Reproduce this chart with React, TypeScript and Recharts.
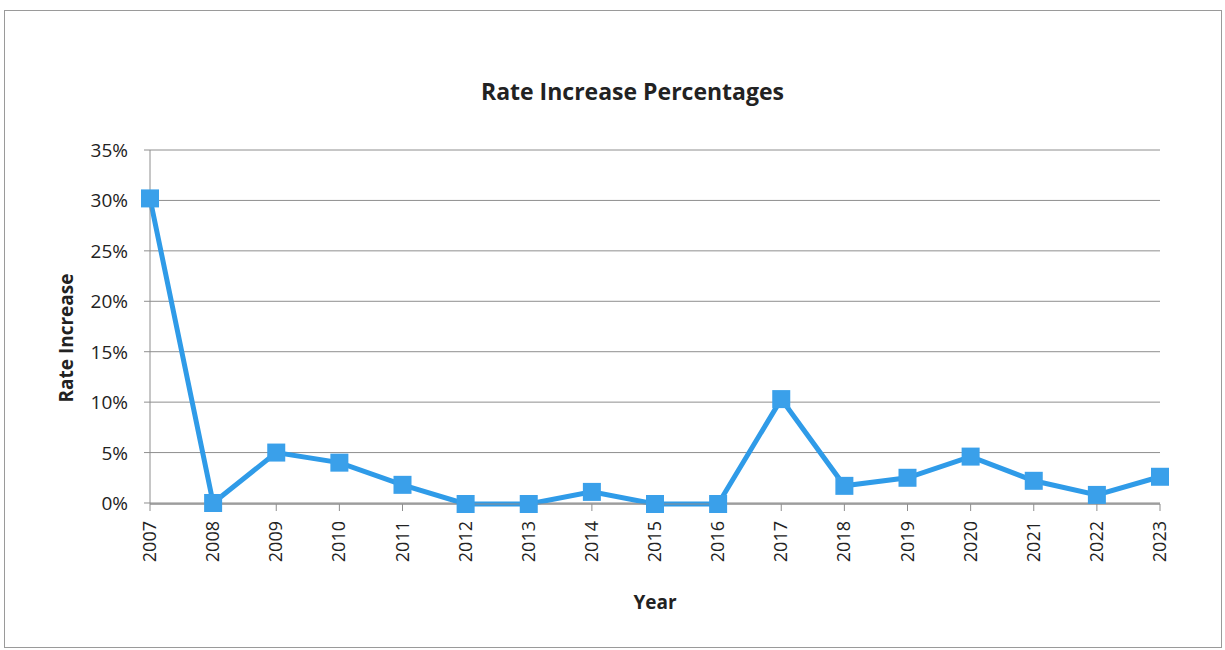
import { LineChart, Line, XAxis, YAxis, CartesianGrid, Label } from "recharts";

// Yearly rate increases, in percent.
const YEARS = [
  "2007", "2008", "2009", "2010", "2011", "2012", "2013", "2014", "2015",
  "2016", "2017", "2018", "2019", "2020", "2021", "2022", "2023",
];
const RATE_INCREASE = [
  30.2, 0, 5, 4, 1.8, -0.1, -0.1, 1.1, -0.1, -0.1, 10.3, 1.7, 2.5, 4.6, 2.2, 0.8, 2.6,
];
const Y_TICKS = [0, 5, 10, 15, 20, 25, 30, 35];

const data = YEARS.map((year, i) => ({ year, rate: RATE_INCREASE[i] }));

const FONT = "'Open Sans', sans-serif";
const LINE_COLOR = "#2f9be8";
const GRID_COLOR = "#8e8e8e";

// Excel style square marker
function SquareDot(props: any) {
  const { cx, cy, index } = props;
  if (cx == null || cy == null) return null;
  const s = 18;
  return (
    <rect
      key={`dot-${index}`}
      x={cx - s / 2}
      y={cy - s / 2}
      width={s}
      height={s}
      fill="#3aa0ea"
    />
  );
}

function YearTick(props: any) {
  const { x, y, payload } = props;
  return (
    <text
      x={0}
      y={0}
      transform={`translate(${x + 6},${y + 8}) rotate(-90)`}
      textAnchor="end"
      fill="#222"
      fontSize={18}
      fontFamily={FONT}
    >
      {payload.value}
    </text>
  );
}

function PercentTick(props: any) {
  const { x, y, payload } = props;
  return (
    <text
      x={x - 14}
      y={y + 7}
      textAnchor="end"
      fill="#222"
      fontSize={19}
      fontFamily={FONT}
    >
      {`${payload.value}%`}
    </text>
  );
}

// axis title sits a bit below the plot's middle in the original
function YTitle({ viewBox }: any) {
  const cy = viewBox.y + viewBox.height / 2 + 11;
  return (
    <text
      transform={`translate(73,${cy}) rotate(-90)`}
      textAnchor="middle"
      fill="#222"
      fontSize={19}
      fontWeight={700}
      fontFamily={FONT}
    >
      Rate Increase
    </text>
  );
}

export default function App() {
  return (
    <div style={{ position: "absolute", left: 0, top: 0, width: 1225, height: 650, background: "#fff" }}>
      <div
        style={{
          position: "absolute",
          left: 4,
          top: 10,
          width: 1216,
          height: 636,
          border: "1px solid #9a9a9a",
        }}
      />
      <div
        style={{
          position: "absolute",
          left: 0,
          width: 1265,
          top: 75,
          textAlign: "center",
          fontFamily: FONT,
          fontWeight: 700,
          fontSize: 23,
          color: "#222",
        }}
      >
        Rate Increase Percentages
      </div>
      <div style={{ position: "absolute", left: 0, top: 0 }}>
        <LineChart
          width={1225}
          height={650}
          data={data}
          margin={{ top: 150, right: 65, bottom: 36, left: 90 }}
        >
          <CartesianGrid vertical={false} stroke={GRID_COLOR} />
          <XAxis
            dataKey="year"
            height={110}
            stroke={GRID_COLOR}
            tickSize={7}
            interval={0}
            tick={<YearTick />}
          >
            <Label
              value="Year"
              position="insideBottom"
              offset={5}
              fill="#222"
              fontSize={19}
              fontWeight={700}
              fontFamily={FONT}
            />
          </XAxis>
          <YAxis
            width={60}
            domain={[-0.1, 35]}
            ticks={Y_TICKS}
            stroke={GRID_COLOR}
            tickSize={6}
            tick={<PercentTick />}
          >
            <Label content={<YTitle />} />
          </YAxis>
          <Line
            dataKey="rate"
            stroke={LINE_COLOR}
            strokeWidth={5}
            dot={<SquareDot />}
            activeDot={false}
            isAnimationActive={false}
          />
        </LineChart>
      </div>
    </div>
  );
}
